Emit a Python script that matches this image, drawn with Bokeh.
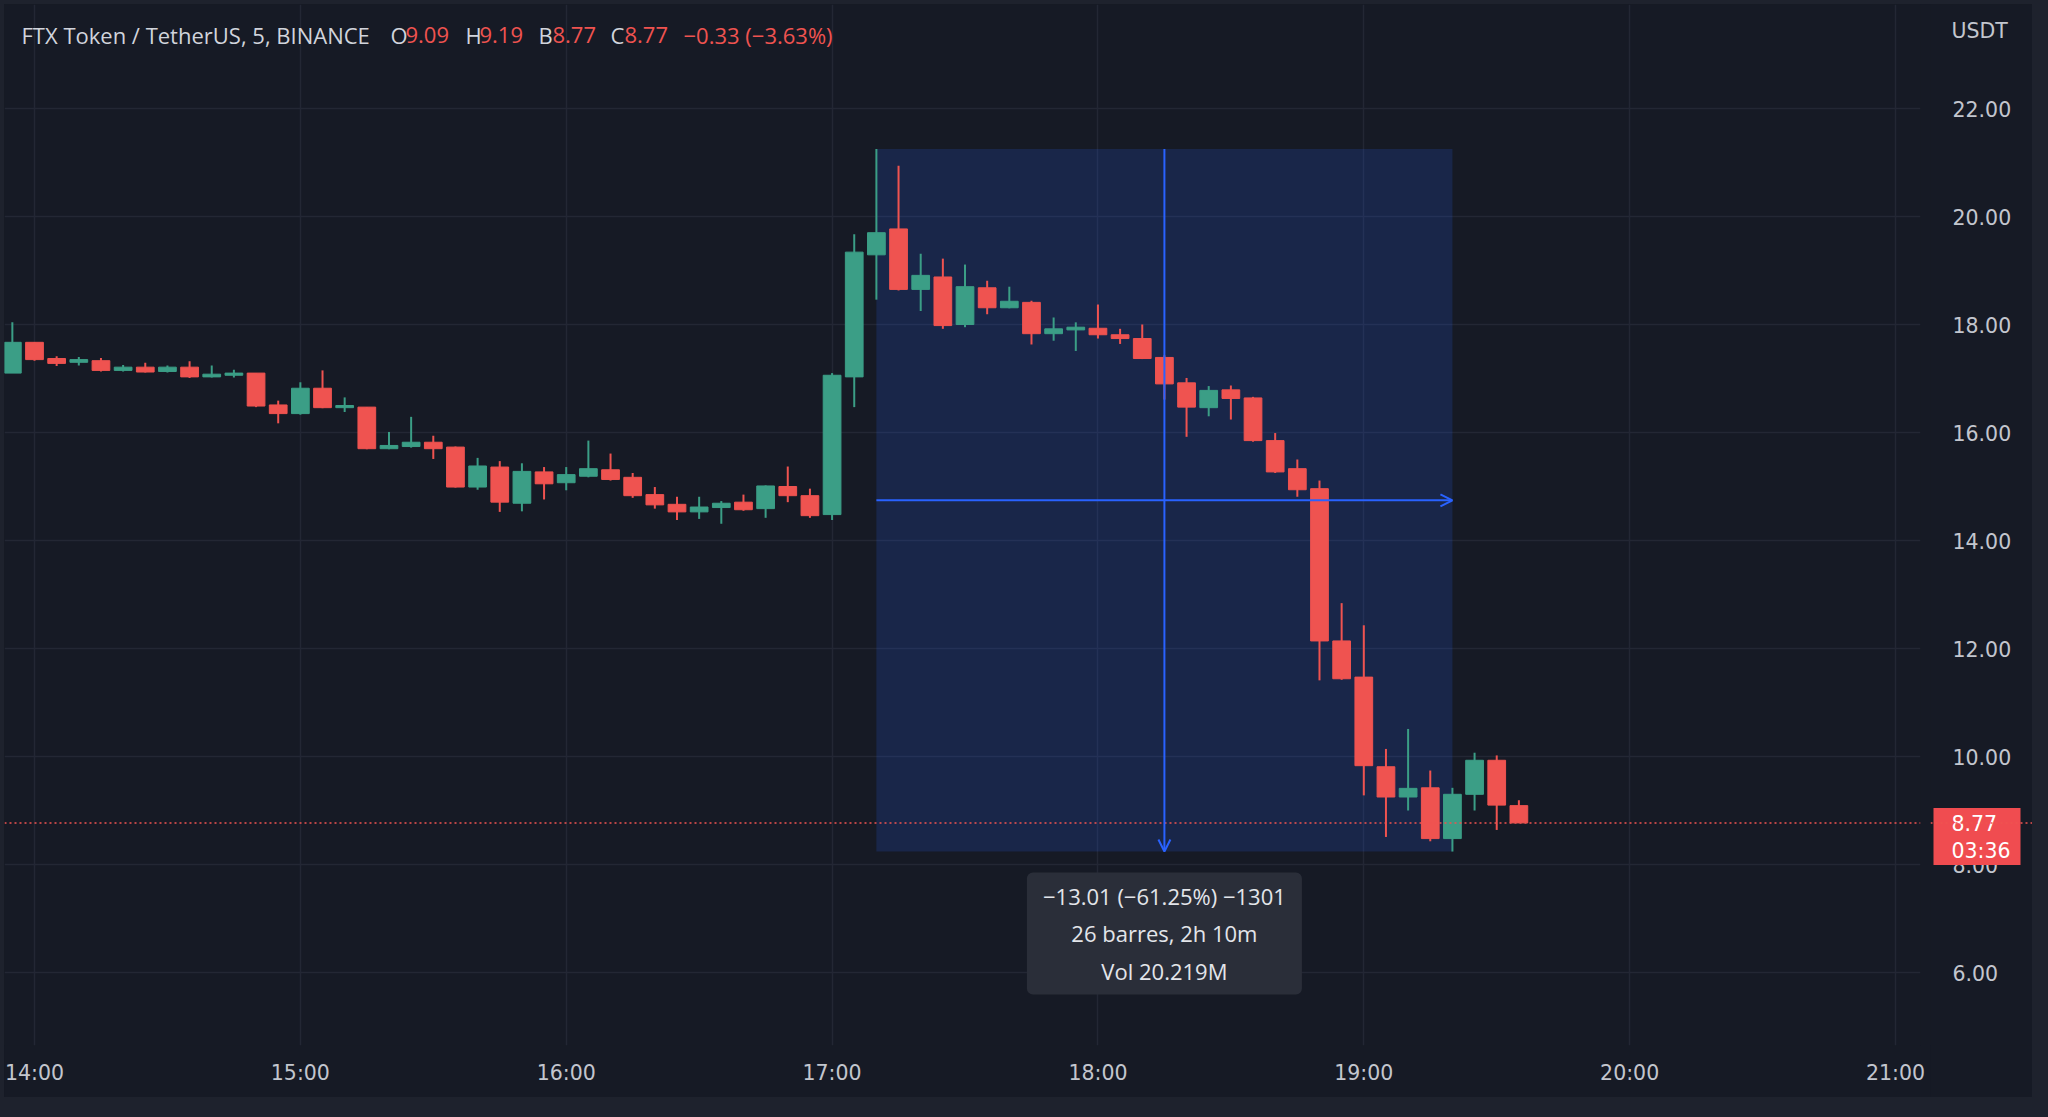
import pandas as pd
from bokeh.plotting import figure
from bokeh.models import (ColumnDataSource, FixedTicker, BoxAnnotation, Label, Arrow,
                          OpenHead, Span, Div, GlobalInlineStyleSheet)
from bokeh.core.properties import value
from bokeh.layouts import column, row
from bokeh.embed import file_html
from bokeh.resources import INLINE

# ---------------- data ----------------
first_bar = "13:55"
bar_minutes = 5
opens = [17.10, 17.67, 17.37, 17.30, 17.33, 17.15, 17.21, 17.13, 17.21, 17.03,
         17.06, 17.10, 16.51, 16.35, 16.82, 16.46, 16.47, 15.70, 15.74, 15.82,
         15.73, 14.99, 15.36, 14.69, 15.27, 15.07, 15.19, 15.31, 15.17, 14.85,
         14.67, 14.53, 14.61, 14.71, 14.59, 15.00, 14.83, 14.48, 17.03, 19.29,
         19.77, 18.65, 18.88, 18.00, 18.68, 18.31, 18.41, 17.83, 17.90, 17.93,
         17.81, 17.74, 17.39, 16.92, 16.46, 16.79, 16.64, 15.85, 15.33, 14.96,
         12.14, 11.47, 9.81, 9.25, 9.42, 8.48, 9.30, 9.93, 9.09]
highs = [18.04, 17.67, 17.41, 17.40, 17.38, 17.25, 17.29, 17.24, 17.32, 17.24,
         17.16, 17.10, 16.59, 16.93, 17.15, 16.65, 16.47, 16.01, 16.29, 15.94,
         15.74, 15.53, 15.47, 15.43, 15.36, 15.36, 15.85, 15.61, 15.25, 14.99,
         14.81, 14.81, 14.73, 14.85, 15.02, 15.37, 14.96, 17.10, 19.67, 21.25,
         20.94, 19.31, 19.22, 19.11, 18.81, 18.70, 18.44, 18.13, 18.04, 18.37,
         17.92, 18.00, 17.43, 17.01, 16.86, 16.87, 16.66, 15.99, 15.50, 15.11,
         12.84, 12.43, 10.14, 10.51, 9.74, 9.42, 10.07, 10.02, 9.19]
lows = [17.10, 17.33, 17.23, 17.24, 17.13, 17.13, 17.11, 17.11, 17.01, 17.02,
        17.02, 16.47, 16.17, 16.33, 16.45, 16.38, 15.69, 15.69, 15.72, 15.51,
        14.98, 14.94, 14.53, 14.54, 14.76, 14.93, 15.17, 15.11, 14.79, 14.59,
        14.38, 14.40, 14.31, 14.55, 14.42, 14.71, 14.42, 14.38, 16.47, 18.46,
        18.63, 18.25, 17.92, 17.95, 18.19, 18.30, 17.63, 17.70, 17.51, 17.74,
        17.64, 17.36, 16.61, 15.92, 16.30, 16.24, 15.83, 15.25, 14.81, 11.41,
        11.42, 9.28, 8.51, 9.00, 8.43, 8.24, 9.00, 8.64, 8.77]
closes = [17.67, 17.35, 17.28, 17.35, 17.15, 17.21, 17.12, 17.21, 17.03, 17.08,
          17.10, 16.49, 16.35, 16.82, 16.46, 16.50, 15.70, 15.76, 15.82, 15.70,
          14.99, 15.38, 14.71, 15.28, 15.05, 15.22, 15.33, 15.13, 14.83, 14.66,
          14.53, 14.62, 14.69, 14.57, 15.01, 14.83, 14.46, 17.06, 19.34, 19.70,
          18.65, 18.91, 17.98, 18.70, 18.31, 18.43, 17.83, 17.92, 17.95, 17.81,
          17.74, 17.37, 16.90, 16.47, 16.78, 16.63, 15.85, 15.27, 14.94, 12.14,
          11.44, 9.83, 9.25, 9.41, 8.48, 9.30, 9.93, 9.10, 8.77]

x_tick_labels = ["14:00", "15:00", "16:00", "17:00", "18:00", "19:00", "20:00", "21:00"]
y_ticks = [6, 8, 10, 12, 14, 16, 18, 20, 22]

title_text = "FTX Token / TetherUS, 5, BINANCE"
legend_keys = ["O", "H", "B", "C"]
legend_values = ["9.09", "9.19", "8.77", "8.77"]
change_text = "\u22120.33 (\u22123.63%)"
currency = "USDT"
last_price = 8.77
last_price_text = "8.77"
countdown_text = "03:36"

measure_start = "17:10"
measure_end = "19:20"
measure_top = 21.25
measure_bottom = 8.24
measure_lines = ["\u221213.01 (\u221261.25%) \u22121301", "26 barres, 2h 10m", "Vol 20.219M"]

# ---------------- helpers ----------------
def to_min(s):
    h, m = s.split(":")
    return int(h) * 60 + int(m)

UP = "#3b9e86"
DOWN = "#ef5350"
BG = "#161a25"
OUTER = "#1e222d"
GRID = "#232734"
AXIS_TXT = "#c3c6ce"
BLUE = "#2962ff"
AX_FONT = "DejaVu Sans"
AX_SIZE = "20.5px"
TXT_FONT = "Open Sans"

t0 = to_min(first_bar)
xs = [t0 + bar_minutes * i for i in range(len(opens))]
src = ColumnDataSource(dict(
    x=xs, open=opens, high=highs, low=lows, close=closes,
    top=[max(o, c) for o, c in zip(opens, closes)],
    bottom=[min(o, c) for o, c in zip(opens, closes)],
    color=[UP if c >= o else DOWN for o, c in zip(opens, closes)],
))

# geometry (page pixels): main frame 4..1920 horizontally, 4..1045 vertically
PX_PER_MIN = 4.431
PX_PER_UNIT = 54.0
FL, FT, FR, FB = 4, 4, 1920, 1045
PANEL_END = 1097          # bottom of chart panels (page px)
SPLIT = 1930              # boundary between chart and price scale panel
SCALE_END = 2032          # right end of price scale panel
X_START = to_min("14:00") - (34 - FL) / PX_PER_MIN
X_END = X_START + (FR - FL) / PX_PER_MIN
Y_END = 22 + (108 - FT) / PX_PER_UNIT
Y_START = Y_END - (FB - FT) / PX_PER_UNIT
H = PANEL_END - FT

def px2x(px):
    return X_START + (px - FL) / PX_PER_MIN

def py2y(py):
    return Y_END - (py - FT) / PX_PER_UNIT

p = figure(width=SPLIT - FL, height=H, output_backend="svg", toolbar_location=None,
           x_range=(X_START, X_END), y_range=(Y_START, Y_END), y_axis_location=None,
           min_border_left=0, min_border_top=0, min_border_right=SPLIT - FR,
           min_border_bottom=PANEL_END - FB,
           background_fill_color=BG, border_fill_color=BG, outline_line_color=None)

x_tick_vals = [to_min(s) for s in x_tick_labels]
p.xaxis.ticker = FixedTicker(ticks=x_tick_vals)
p.xaxis.major_label_overrides = {v: s for v, s in zip(x_tick_vals, x_tick_labels)}
p.xaxis.axis_line_color = None
p.xaxis.major_tick_line_color = None
p.xaxis.minor_tick_line_color = None
p.xaxis.major_tick_out = 0
p.xaxis.major_tick_in = 0
p.xaxis.major_label_text_color = AXIS_TXT
p.xaxis.major_label_text_font = AX_FONT
p.xaxis.major_label_text_font_size = AX_SIZE
p.xaxis.major_label_standoff = 15
p.xgrid.ticker = FixedTicker(ticks=x_tick_vals)
p.ygrid.ticker = FixedTicker(ticks=y_ticks)
p.grid.grid_line_color = GRID
p.grid.grid_line_width = 1.5

# measurement rectangle (under candles)
m_left, m_right = to_min(measure_start), to_min(measure_end)
m_mid = (m_left + m_right) / 2
p.add_layout(BoxAnnotation(left=m_left, right=m_right, top=measure_top, bottom=measure_bottom,
                           fill_color=BLUE, fill_alpha=0.17, line_color=None, level="underlay"))

# candles
p.segment(x0="x", y0="low", x1="x", y1="high", line_color="color", line_width=2, source=src)
p.vbar(x="x", width=4, top="top", bottom="bottom", fill_color="color", line_color="color",
       line_width=1, source=src)

# last price dotted line
p.add_layout(Span(location=last_price, dimension="width", line_color=DOWN,
                  line_dash="2 3", line_width=1.5))

# measurement arrows
p.add_layout(Arrow(end=OpenHead(size=12, line_color=BLUE, line_width=2),
                   x_start=m_mid, y_start=measure_top, x_end=m_mid, y_end=measure_bottom,
                   line_color=BLUE, line_width=2))
p.add_layout(Arrow(end=OpenHead(size=12, line_color=BLUE, line_width=2),
                   x_start=m_left, y_start=(measure_top + measure_bottom) / 2,
                   x_end=m_right, y_end=(measure_top + measure_bottom) / 2,
                   line_color=BLUE, line_width=2))

# measurement info box
half_w = 137.5 / PX_PER_MIN
p.add_layout(BoxAnnotation(left=m_mid - half_w, right=m_mid + half_w,
                           top=py2y(872), bottom=py2y(994),
                           fill_color="#2a2e39", fill_alpha=1.0, line_color=None,
                           border_radius=6))
for txt, py in zip(measure_lines, [895, 932, 970]):
    p.add_layout(Label(x=m_mid, y=py2y(py), text=txt, text_align="center",
                       text_baseline="middle", text_color="#e3e5ea",
                       text_font=TXT_FONT, text_font_size="22px"))

# header legend
HDR = "22px"
p.add_layout(Label(x=px2x(21), y=py2y(34), text=title_text, text_align="left",
                   text_baseline="middle", text_color="#d1d4dc",
                   text_font=TXT_FONT, text_font_size=HDR))
key_px = [390, 465, 538, 610]
val_px = [405, 479, 552, 624]
for k, v, kp, vp in zip(legend_keys, legend_values, key_px, val_px):
    p.add_layout(Label(x=px2x(kp), y=py2y(34), text=k, text_align="left",
                       text_baseline="middle", text_color="#d1d4dc",
                       text_font=TXT_FONT, text_font_size=HDR))
    p.add_layout(Label(x=px2x(vp), y=py2y(34), text=v, text_align="left",
                       text_baseline="middle", text_color=DOWN,
                       text_font=TXT_FONT, text_font_size=HDR))
p.add_layout(Label(x=px2x(683), y=py2y(34), text=change_text, text_align="left",
                   text_baseline="middle", text_color=DOWN,
                   text_font=TXT_FONT, text_font_size=HDR))

# ---------------- price scale panel ----------------
q = figure(width=SCALE_END - SPLIT, height=H, output_backend="svg", toolbar_location=None,
           x_range=(SPLIT, SCALE_END), y_range=p.y_range,
           x_axis_location=None, y_axis_location=None,
           min_border_left=0, min_border_right=0, min_border_top=0,
           min_border_bottom=PANEL_END - FB,
           background_fill_color=BG, border_fill_color=BG, outline_line_color=None)
q.grid.visible = False

scale_src = ColumnDataSource(dict(x=[1952] * len(y_ticks), y=y_ticks,
                                  text=[f"{t:.2f}" for t in y_ticks]))
q.text(x="x", y="y", text="text", source=scale_src, text_align="left",
       text_baseline="middle", text_color=AXIS_TXT, text_font=value(AX_FONT),
       text_font_size=AX_SIZE)
q.text(x=[1951], y=[py2y(30)], text=[currency], text_align="left", text_baseline="middle",
       text_color=AXIS_TXT, text_font=value(AX_FONT), text_font_size=AX_SIZE)

q.add_layout(Span(location=last_price, dimension="width", line_color=DOWN,
                  line_dash="2 3", line_width=1.5))
q.quad(left=[1933], right=[2020], top=[last_price + 15 / PX_PER_UNIT],
       bottom=[last_price - 42 / PX_PER_UNIT], fill_color="#f04c50", line_color=None)
q.text(x=[1951, 1951], y=[last_price, last_price - 28 / PX_PER_UNIT],
       text=[last_price_text, countdown_text], text_align="left", text_baseline="middle",
       text_color="#ffffff", text_font=value(AX_FONT), text_font_size=AX_SIZE)

# ---------------- outer frame ----------------
def strip(w, h):
    return Div(width=w, height=h, margin=0, styles={"background-color": OUTER})

top_strip = strip(2048, FT)
top_strip.stylesheets = [GlobalInlineStyleSheet(css="html, body { background-color: #161a25; }")]
left_strip = strip(FL, H)
right_strip = strip(2048 - SCALE_END, H)
bottom_strip = strip(2048, 1117 - PANEL_END)

layout = column(top_strip,
                row(left_strip, p, q, right_strip, spacing=0),
                bottom_strip, spacing=0)
open("out.html", "w").write(file_html(layout, INLINE))
